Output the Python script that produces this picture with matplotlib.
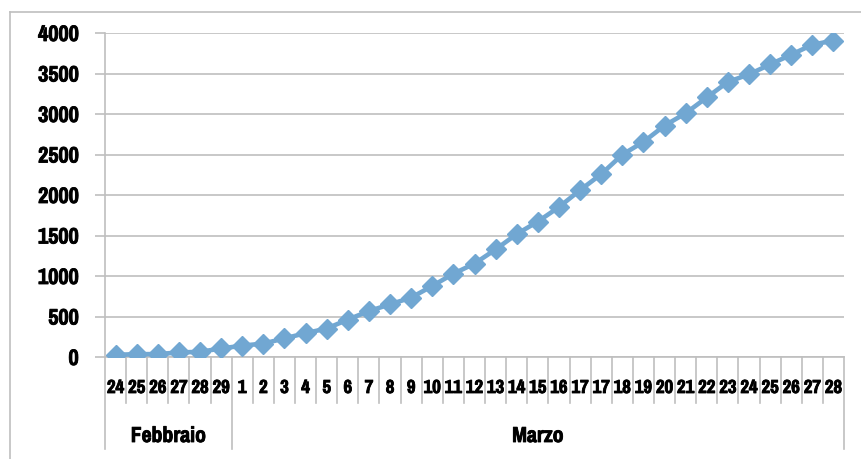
import matplotlib
matplotlib.use('Agg')
import matplotlib.pyplot as plt
from matplotlib.lines import Line2D
from matplotlib import font_manager
import matplotlib.patheffects as pe
import matplotlib.transforms as mtransforms

# giorni (etichette come nel grafico originale, con il 17 ripetuto)
giorni_feb = ['24', '25', '26', '27', '28', '29']
giorni_mar = ['1', '2', '3', '4', '5', '6', '7', '8', '9', '10', '11', '12',
              '13', '14', '15', '16', '17', '17', '18', '19', '20', '21', '22',
              '23', '24', '25', '26', '27', '28']
mesi = ['Febbraio', 'Marzo']
valori = [27, 35, 36, 56, 64, 105, 140, 166, 229, 295, 351, 462, 567, 650,
          733, 877, 1028, 1153, 1328, 1518, 1672, 1851, 2060, 2257, 2498,
          2655, 2857, 3009, 3204, 3396, 3489, 3612, 3732, 3856, 3906]

etichette = giorni_feb + giorni_mar
n = len(etichette)

# cerca un font stretto in grassetto (tipo Arial Narrow)
fp = None
for f in font_manager.fontManager.ttflist:
    nome = (f.name + ' ' + f.fname).lower()
    if ('narrow' in nome or 'condensed' in nome) and 'bold' in f.fname.lower() \
            and 'italic' not in f.fname.lower() and 'oblique' not in f.fname.lower():
        if fp is None or 'narrow' in nome:
            fp = f.fname
if fp:
    def fnt(size):
        return font_manager.FontProperties(fname=fp, size=size)
else:
    def fnt(size):
        return font_manager.FontProperties(family='DejaVu Sans', weight='bold',
                                           stretch='condensed', size=size * 0.82)

# ispessisce un po' il testo
spesso = [pe.withStroke(linewidth=0.6, foreground='black')]

W, H = 861, 459
fig = plt.figure(figsize=(W / 100, H / 100), dpi=100)
grigio = '#BFBFBF'
blu = '#71A7D2'

# cornice del grafico
fig.add_artist(Line2D([10 / W, 1.01], [1 - 12 / H, 1 - 12 / H], color=grigio, lw=1.2))
fig.add_artist(Line2D([10 / W, 10 / W], [-0.01, 1 - 12 / H], color=grigio, lw=1.2))

ax = fig.add_axes([105 / W, 102 / H, (844 - 105) / W, (357 - 33) / H])
x = list(range(n))
ax.plot(x, valori, color=blu, lw=3.3, marker='D', ms=10.5, mec=blu, mfc=blu, zorder=3)

ax.set_xlim(-0.5, n - 0.5)
ax.set_ylim(0, 4000)
ax.set_yticks(range(0, 4001, 500))
ax.yaxis.grid(True, color=grigio, lw=1.2)
ax.set_axisbelow(True)
for s in ['top', 'right']:
    ax.spines[s].set_visible(False)
for s in ['left', 'bottom']:
    ax.spines[s].set_color(grigio)
    ax.spines[s].set_linewidth(1.2)
ax.tick_params(axis='y', length=7, color=grigio, width=1.2, pad=12)
ax.set_xticks([])
for lab in ax.get_yticklabels():
    lab.set_fontproperties(fnt(17.5))
    lab.set_path_effects(spesso)

# etichette categorie e separatori
tr = mtransforms.blended_transform_factory(ax.transData, ax.transAxes)
hpx = 357 - 33
for i, lab in enumerate(etichette):
    ax.text(i, -31 / hpx, lab, transform=tr, ha='center', va='center',
            fontproperties=fnt(14.8), path_effects=spesso)
for k in range(n + 1):
    fondo = -92 / hpx if k in (0, len(giorni_feb), n) else -46 / hpx
    ax.add_line(Line2D([k - 0.5, k - 0.5], [0, fondo], transform=tr,
                       color=grigio, lw=1.2, clip_on=False))

centri = [(len(giorni_feb) - 1) / 2, len(giorni_feb) + (len(giorni_mar) - 1) / 2]
for c, m in zip(centri, mesi):
    ax.text(c, -79 / hpx, m, transform=tr, ha='center', va='center',
            fontproperties=fnt(17), path_effects=spesso)

fig.savefig('out.png', dpi=100)
